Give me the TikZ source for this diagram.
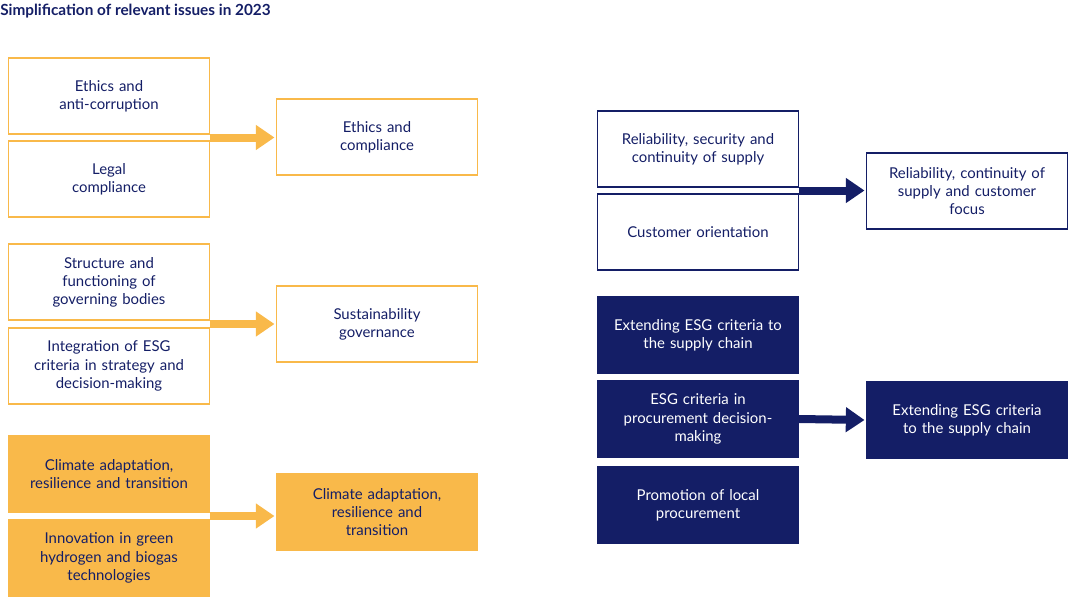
\documentclass[tikz,border=0pt]{standalone}
\usepackage{fontspec}
\setmainfont{Lato}
\usetikzlibrary{arrows.meta,calc}
\definecolor{esgorange}{HTML}{F9B94A}
\definecolor{esgnavy}{HTML}{141E66}
\tikzset{
  issue/.style={draw=#1, line width=1pt, minimum width=150.75pt, minimum height=57pt,
    text width=140pt, align=center, inner sep=2pt, text=esgnavy,
    font=\fontsize{11.2}{13.6}\selectfont},
  issue/.default=esgorange,
  obox/.style={issue, draw=esgorange},
  ofill/.style={issue, draw=esgorange, fill=esgorange},
  nbox/.style={issue, draw=esgnavy},
  nfill/.style={issue, draw=esgnavy, fill=esgnavy, text=white},
  merge/.style={line width=6pt, -{Triangle[length=14pt,width=18pt]}, shorten >=1pt},
}
\begin{document}
\begin{tikzpicture}[x=0.75pt,y=-0.75pt]
  \useasboundingbox (0,0) rectangle (1068,597);
  \node[anchor=north west, inner sep=0pt, text=esgnavy, font=\fontsize{11.5}{14}\selectfont\bfseries] (title) at (0,4) {Simplification of relevant issues in 2023};

  % left column
  \node[obox] (ethics) at (109,96) {Ethics and\\anti-corruption};
  \node[obox] (legal) at (109,179) {Legal\\compliance};
  \node[obox] (structure) at (109,282) {Structure and\\functioning of\\governing bodies};
  \node[obox] (integration) at (109,366) {Integration of ESG\\criteria in strategy and\\decision-making};
  \node[ofill] (climate) at (109,474) {Climate adaptation,\\resilience and transition};
  \node[ofill] (hydrogen) at (109,558) {Innovation in green\\hydrogen and biogas\\technologies};

  \node[obox] (compliance) at (377,137) {Ethics and\\compliance};
  \node[obox] (governance) at (377,324) {Sustainability\\governance};
  \node[ofill] (transition) at (377,512) {Climate adaptation,\\resilience and\\transition};

  % right column
  \node[nbox] (supply) at (698,149) {Reliability, security and\\continuity of supply};
  \node[nbox] (customer) at (698,232) {Customer orientation};
  \node[nfill] (chain) at (698,335) {Extending ESG criteria to\\the supply chain};
  \node[nfill] (procure) at (698,419) {ESG criteria in\\procurement decision-\\making};
  \node[nfill] (local) at (698,505) {Promotion of local\\procurement};

  \node[nbox] (focus) at (967,191) {Reliability, continuity of\\supply and customer\\focus};
  \node[nfill] (extend) at (967,420) {Extending ESG criteria\\to the supply chain};

  \coordinate (j1) at ($(ethics.south east)!0.5!(legal.north east)$);
  \coordinate (j2) at ($(structure.south east)!0.5!(integration.north east)$);
  \coordinate (j3) at ($(climate.south east)!0.5!(hydrogen.north east)$);
  \coordinate (j4) at ($(supply.south east)!0.5!(customer.north east)$);

  \draw[merge, esgorange] (j1) -- (j1 -| compliance.west);
  \draw[merge, esgorange] (j2) -- (j2 -| governance.west);
  \draw[merge, esgorange] (j3) -- (j3 -| transition.west);
  \draw[merge, esgnavy] (j4) -- (j4 -| focus.west);
  \draw[merge, esgnavy] (procure.east) -- (extend.west);
\end{tikzpicture}
\end{document}
